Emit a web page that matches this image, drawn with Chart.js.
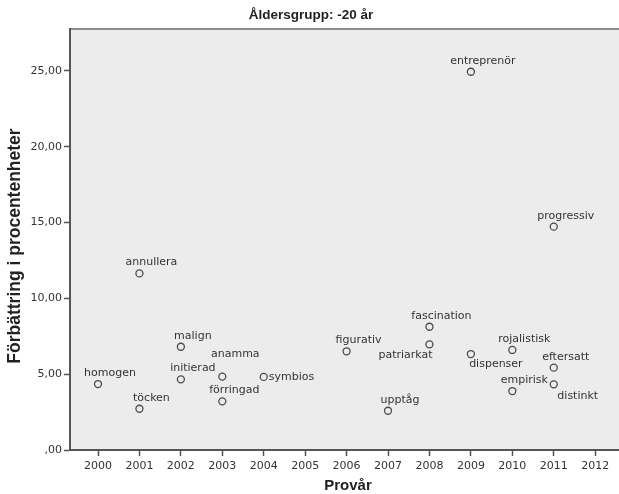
<!DOCTYPE html>
<html>
<head>
<meta charset="utf-8">
<script src="https://cdn.jsdelivr.net/npm/chart.js@4"></script>
<style>
  html, body { margin: 0; padding: 0; background: #fff; }
  #wrap { width: 619px; height: 494px; }
</style>
</head>
<body>
<div id="wrap"><canvas id="scatterChart" width="619" height="494"></canvas></div>
<script>
// data
const words = ['homogen', 'annullera', 'töcken', 'malign', 'initierad', 'anamma', 'förringad', 'symbios',
  'figurativ', 'upptåg', 'fascination', 'patriarkat', 'entreprenör', 'dispenser', 'rojalistisk',
  'empirisk', 'progressiv', 'eftersatt', 'distinkt'];
const years = [2000, 2001, 2001, 2002, 2002, 2003, 2003, 2004,
  2006, 2007, 2008, 2008, 2009, 2009, 2010,
  2010, 2011, 2011, 2011];
const improvement = [4.35, 11.65, 2.72, 6.81, 4.66, 4.84, 3.21, 4.82,
  6.51, 2.59, 8.13, 6.97, 24.95, 6.33, 6.6,
  3.89, 14.73, 5.43, 4.33];
const yTicks = [0, 5, 10, 15, 20, 25];
const xTicks = [2000, 2001, 2002, 2003, 2004, 2005, 2006, 2007, 2008, 2009, 2010, 2011, 2012];

// where each word label sits relative to its point
const labelDefault = { dx: 12, dy: -11, align: 'center' };
const labelSpecial = {
  anamma: { dx: 13, dy: -22, align: 'center' },
  symbios: { dx: 5, dy: 0, align: 'left' },
  patriarkat: { dx: -24, dy: 11, align: 'center' },
  dispenser: { dx: 25, dy: 10, align: 'center' },
  distinkt: { dx: 24, dy: 12, align: 'center' }
};

const axisColor = '#555';
const textColor = '#333';

// grey plot area runs off the right edge, like the cropped original
const plotBackground = {
  id: 'plotBackground',
  beforeDraw(chart) {
    const { ctx, chartArea: a } = chart;
    ctx.save();
    ctx.fillStyle = '#ebeceb';
    ctx.fillRect(a.left, a.top, chart.width - a.left, a.bottom - a.top);
    ctx.strokeStyle = '#8c8c8c';
    ctx.lineWidth = 2;
    ctx.beginPath();
    ctx.moveTo(a.left, a.top);
    ctx.lineTo(chart.width, a.top);
    ctx.stroke();
    ctx.restore();
  },
  afterDraw(chart) {
    const { ctx, chartArea: a } = chart;
    ctx.save();
    ctx.strokeStyle = axisColor;
    ctx.lineWidth = 2;
    ctx.beginPath();
    ctx.moveTo(a.right - 1, a.bottom);
    ctx.lineTo(chart.width, a.bottom);
    ctx.stroke();
    ctx.restore();
  }
};

const wordLabels = {
  id: 'wordLabels',
  afterDatasetsDraw(chart) {
    const ctx = chart.ctx;
    const meta = chart.getDatasetMeta(0);
    ctx.save();
    ctx.font = '11px "DejaVu Sans"';
    ctx.fillStyle = textColor;
    ctx.textBaseline = 'middle';
    meta.data.forEach((pt, i) => {
      const p = labelSpecial[words[i]] || labelDefault;
      ctx.textAlign = p.align;
      ctx.fillText(words[i], pt.x + p.dx, pt.y + p.dy);
    });
    ctx.restore();
  }
};

const titles = {
  id: 'titles',
  afterDraw(chart) {
    const ctx = chart.ctx;
    ctx.save();
    ctx.fillStyle = '#222';
    ctx.textAlign = 'center';
    ctx.textBaseline = 'middle';
    ctx.font = 'bold 13.5px "Liberation Sans"';
    ctx.fillText('Åldersgrupp: -20 år', 311, 15);
    ctx.font = 'bold 15px "Liberation Sans"';
    ctx.fillText('Provår', 348, 486);
    ctx.translate(15, 246);
    ctx.rotate(-Math.PI / 2);
    ctx.font = 'bold 17.5px "Liberation Sans"';
    ctx.fillText('Förbättring i procentenheter', 0, 0);
    ctx.restore();
  }
};

const data = {
  datasets: [{
    data: years.map((x, i) => ({ x, y: improvement[i] })),
    pointRadius: 3.5,
    pointHoverRadius: 3.5,
    pointBorderWidth: 1.3,
    pointBorderColor: '#4a4a4a',
    pointBackgroundColor: 'rgba(0,0,0,0)'
  }]
};

const options = {
  responsive: false,
  animation: false,
  layout: { padding: { top: 29, left: 0, right: 0, bottom: 0 } },
  plugins: {
    legend: { display: false },
    tooltip: { enabled: false }
  },
  scales: {
    x: {
      type: 'linear',
      min: 1999.324,
      max: 2012.459,
      afterFit: (s) => { s.height = 44; s.paddingLeft = 0; s.paddingRight = 0; },
      afterBuildTicks: (s) => { s.ticks = xTicks.map(v => ({ value: v })); },
      ticks: {
        color: textColor,
        font: { family: 'DejaVu Sans', size: 11 },
        padding: 4,
        maxRotation: 0,
        callback: (v) => String(v)
      },
      grid: { drawOnChartArea: false, tickLength: 6, tickColor: axisColor, tickWidth: 1.5 },
      border: { color: axisColor, width: 2 }
    },
    y: {
      type: 'linear',
      min: 0,
      max: 27.77,
      afterFit: (s) => { s.width = 70; s.paddingTop = 0; s.paddingBottom = 0; },
      afterBuildTicks: (s) => { s.ticks = yTicks.map(v => ({ value: v })); },
      ticks: {
        color: textColor,
        font: { family: 'DejaVu Sans', size: 11 },
        padding: 2,
        callback: (v) => v === 0 ? ',00' : v.toFixed(2).replace('.', ',')
      },
      grid: { drawOnChartArea: false, tickLength: 6, tickColor: axisColor, tickWidth: 1.5 },
      border: { color: axisColor, width: 2 }
    }
  }
};

new Chart(document.getElementById('scatterChart'), {
  type: 'scatter',
  data,
  options,
  plugins: [plotBackground, wordLabels, titles]
});
</script>
</body>
</html>
